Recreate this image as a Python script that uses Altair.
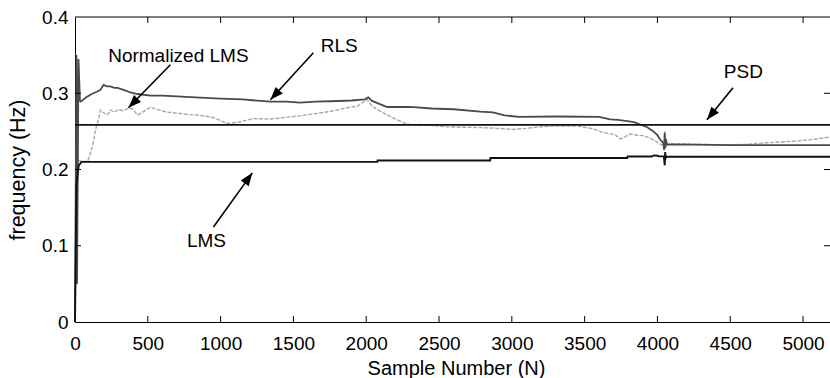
import math
import altair as alt
import pandas as pd

# ---------------- data ----------------
XMAX = 5185
YMAX = 0.4

x_ticks = [0, 500, 1000, 1500, 2000, 2500, 3000, 3500, 4000, 4500, 5000]
y_ticks = [0, 0.1, 0.2, 0.3, 0.4]

psd_x = [0, 5185]
psd_y = [0.2586, 0.2586]

lms_x = [0, 10, 25, 45, 2076, 2078, 2851, 2853, 3792, 3795, 3960, 3975, 4000,
         4010, 4044, 4050, 4053, 4057, 4062, 5185]
lms_y = [0.0, 0.18, 0.205, 0.210, 0.210, 0.2119, 0.2119, 0.2150, 0.2150, 0.2170,
         0.2170, 0.2185, 0.2180, 0.2172, 0.2172, 0.2055, 0.2228, 0.2150, 0.2168, 0.2168]

rls_x = [0, 10, 14, 24, 34, 40, 72, 106, 127, 150, 175, 196, 220, 244, 270, 292,
         333, 381, 429, 520, 600, 700, 861, 1000, 1150, 1342, 1450, 1547, 1650,
         1753, 1900, 1990, 2014, 2040, 2090, 2144, 2300, 2450, 2600, 2783, 2870,
         2950, 3050, 3300, 3600, 3675, 3730, 3792, 3840, 3881, 3930, 3970, 4000,
         4018, 4040, 4046, 4050, 4054, 4058, 4065, 4100, 4500, 5185]
rls_y = [0.0, 0.35, 0.05, 0.345, 0.29, 0.289, 0.294, 0.298, 0.300, 0.302, 0.3045,
         0.311, 0.309, 0.309, 0.307, 0.307, 0.3045, 0.301, 0.299, 0.297, 0.297,
         0.296, 0.2943, 0.293, 0.292, 0.2889, 0.289, 0.2877, 0.289, 0.2895, 0.2905,
         0.292, 0.2945, 0.290, 0.286, 0.282, 0.282, 0.280, 0.279, 0.276, 0.275,
         0.271, 0.269, 0.2695, 0.269, 0.2656, 0.265, 0.2635, 0.262, 0.259, 0.2555,
         0.2503, 0.245, 0.2393, 0.235, 0.226, 0.248, 0.228, 0.240, 0.2327, 0.233,
         0.232, 0.232]

nlms_x = [0, 8, 15, 25, 51, 86, 100, 120, 141, 161, 175, 196, 223, 244, 270, 300,
          330, 360, 395, 429, 470, 518, 560, 635, 700, 780, 861, 950, 1047, 1120,
          1225, 1330, 1427, 1530, 1637, 1750, 1870, 1940, 2005, 2040, 2096, 2180,
          2282, 2360, 2440, 2550, 2650, 2783, 2900, 3009, 3100, 3194, 3300, 3448,
          3558, 3620, 3675, 3710, 3744, 3780, 3812, 3860, 3901, 3950, 3990, 4018,
          4040, 4046, 4050, 4054, 4058, 4065, 4200, 4478, 4600, 4750, 4931, 5050, 5185]
nlms_y = [0.0, 0.15, 0.222, 0.212, 0.2104, 0.2104, 0.218, 0.23, 0.252, 0.265, 0.278,
          0.2744, 0.2717, 0.278, 0.275, 0.279, 0.277, 0.2797, 0.2796, 0.2713, 0.276,
          0.2818, 0.279, 0.2751, 0.274, 0.272, 0.271, 0.268, 0.2603, 0.262, 0.2668,
          0.266, 0.2679, 0.270, 0.2729, 0.276, 0.281, 0.283, 0.292, 0.283, 0.2765,
          0.268, 0.2593, 0.258, 0.2579, 0.256, 0.2555, 0.255, 0.254, 0.2526, 0.254,
          0.2559, 0.257, 0.257, 0.2534, 0.249, 0.2467, 0.2455, 0.2401, 0.243, 0.2466,
          0.245, 0.2444, 0.241, 0.237, 0.2333, 0.232, 0.225, 0.25, 0.228, 0.238,
          0.2335, 0.2335, 0.2322, 0.233, 0.235, 0.2371, 0.239, 0.2425]

# annotations: label text, label position, arrow tail, arrow head (data units)
ann_text = ["Normalized LMS", "RLS", "LMS", "PSD"]
ann_tx = [710, 1815, 903, 4590]
ann_ty = [0.3485, 0.3623, 0.1057, 0.3275]
arr_x1 = [655, 1637, 951, 4519]
arr_y1 = [0.3374, 0.3531, 0.1247, 0.3072]
arr_x2 = [367, 1342, 1218, 4340]
arr_y2 = [0.2809, 0.2914, 0.1956, 0.2652]

# ---------------- layout ----------------
W, H = 755, 305
FONT = "Liberation Sans"

xs = alt.Scale(domain=[0, XMAX], nice=False, zero=False)
ys = alt.Scale(domain=[0, YMAX], nice=False, zero=False)

x_axis = alt.Axis(values=x_ticks, format="d", ticks=False, grid=False,
                  domainColor="black", domainWidth=1, labelFont=FONT,
                  labelFontSize=19, labelColor="black", labelPadding=12,
                  labelFlush=False, title="Sample Number (N)", titleFont=FONT,
                  titleFontSize=20, titleFontWeight="normal", titleColor="black",
                  titleX=381, titleY=52, titleAlign="center",
                  titleBaseline="alphabetic")
y_axis = alt.Axis(values=y_ticks, format=".1~f", ticks=False, grid=False,
                  domainColor="black", domainWidth=1, labelFont=FONT,
                  labelFontSize=19, labelColor="black", labelPadding=7,
                  labelFlush=False, title="frequency (Hz)", titleFont=FONT,
                  titleFontSize=21.5, titleFontWeight="normal", titleColor="black",
                  titleAngle=270, titleX=-50.5, titleY=152.5, titleAlign="center",
                  titleBaseline="alphabetic")


def line_layer(xv, yv, color, width, dash=None):
    df = pd.DataFrame({"x": xv, "y": yv})
    kw = dict(color=color, strokeWidth=width, strokeJoin="miter")
    if dash:
        kw["strokeDash"] = dash
    return alt.Chart(df).mark_line(**kw).encode(
        x=alt.X("x:Q", scale=xs, axis=x_axis),
        y=alt.Y("y:Q", scale=ys, axis=y_axis),
    )


nlms = line_layer(nlms_x, nlms_y, "#a8a8a8", 1.4, [4, 1.5])
rls = line_layer(rls_x, rls_y, "#4a4a4a", 1.8)
lms = line_layer(lms_x, lms_y, "#111111", 1.9)
psd = line_layer(psd_x, psd_y, "#111111", 1.8)

# top frame line
top = alt.Chart(pd.DataFrame({"y": [YMAX]})).mark_rule(
    color="black", strokeWidth=1).encode(y=alt.Y("y:Q", scale=ys))

# inward tick marks (MATLAB style)
tick_rows = []
for v in x_ticks[1:]:
    tick_rows.append({"x": v, "y": 0.0, "a": 0})
    tick_rows.append({"x": v, "y": YMAX, "a": 180})
for v in y_ticks[1:-1]:
    tick_rows.append({"x": 0, "y": v, "a": 90})
    tick_rows.append({"x": XMAX, "y": v, "a": 270})
ticks = alt.Chart(pd.DataFrame(tick_rows)).mark_point(
    shape="M0,0L0,-1", size=144, filled=False, color="black",
    strokeWidth=1, opacity=1).encode(
    x=alt.X("x:Q", scale=xs), y=alt.Y("y:Q", scale=ys),
    angle=alt.Angle("a:Q", scale=None))

# annotations
pxs = W / XMAX
pys = H / YMAX
angles = []
for x1, y1, x2, y2 in zip(arr_x1, arr_y1, arr_x2, arr_y2):
    dx = (x2 - x1) * pxs
    dy = -(y2 - y1) * pys
    angles.append((math.degrees(math.atan2(dx, -dy)) + 360) % 360)

ann_df = pd.DataFrame({"t": ann_text, "tx": ann_tx, "ty": ann_ty,
                       "x1": arr_x1, "y1": arr_y1, "x2": arr_x2, "y2": arr_y2,
                       "ang": angles})

labels = alt.Chart(ann_df).mark_text(font=FONT, fontSize=19, color="black",
                                     align="center", baseline="middle").encode(
    x=alt.X("tx:Q", scale=xs), y=alt.Y("ty:Q", scale=ys), text="t:N")
shafts = alt.Chart(ann_df).mark_rule(color="black", strokeWidth=1.6).encode(
    x=alt.X("x1:Q", scale=xs), y=alt.Y("y1:Q", scale=ys),
    x2="x2:Q", y2="y2:Q")
heads = alt.Chart(ann_df).mark_point(
    shape="M0,0L-0.75,2L0.75,2Z", size=169, filled=True, color="black",
    opacity=1, strokeWidth=0).encode(
    x=alt.X("x2:Q", scale=xs), y=alt.Y("y2:Q", scale=ys),
    angle=alt.Angle("ang:Q", scale=None))

chart = alt.layer(nlms, rls, lms, psd, top, ticks, shafts, heads, labels).properties(
    width=W, height=H,
    padding={"left": 75, "top": 17, "right": 0, "bottom": 56},
    autosize=alt.AutoSizeParams(type="none"),
    background="white",
).configure_view(stroke=None)

chart.save("out.html", embed_options={"renderer": "svg", "actions": False})
